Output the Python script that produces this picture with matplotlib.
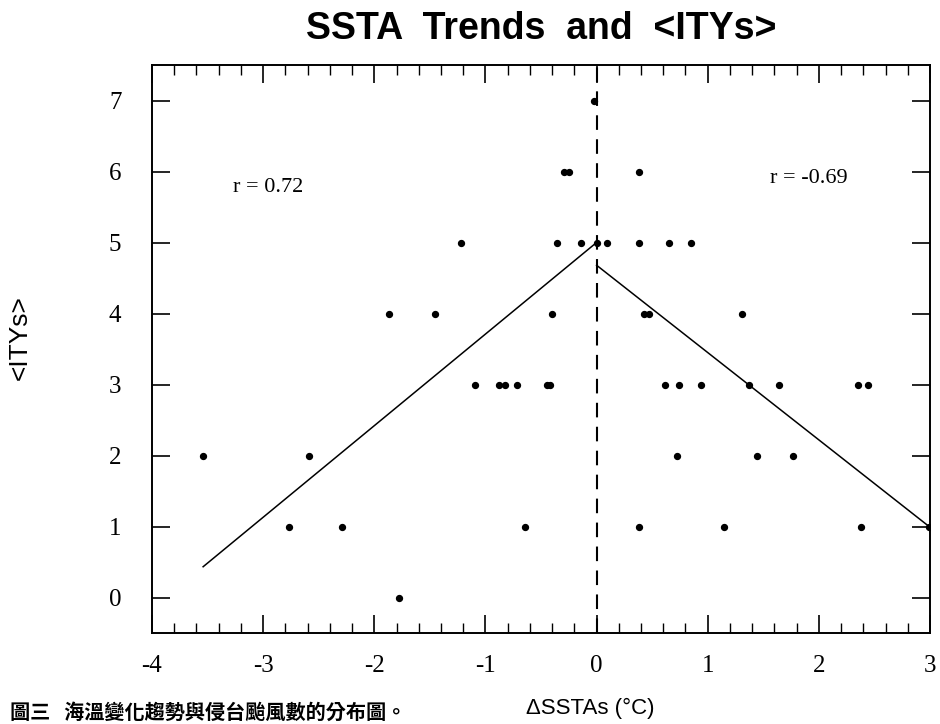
import matplotlib
matplotlib.use("Agg")
import matplotlib.pyplot as plt
import numpy as np
from matplotlib.ticker import MultipleLocator

plt.rcParams["axes.unicode_minus"] = False

# points
ssta = [-0.02,
        -0.29, -0.25, 0.38,
        -1.22, -0.36, -0.14, 0.0, 0.09, 0.385, 0.655, 0.85,
        -1.87, -1.45, -0.40, 0.43, 0.47, 1.31,
        -1.09, -0.88, -0.82, -0.72, -0.45, -0.42, 0.62, 0.74, 0.94, 1.37, 1.64, 2.35, 2.44,
        -3.54, -2.59, 0.72, 1.44, 1.77,
        -2.77, -2.29, -0.64, 0.38, 1.15, 2.38, 2.99,
        -1.78]
itys = [7,
        6, 6, 6,
        5, 5, 5, 5, 5, 5, 5, 5,
        4, 4, 4, 4, 4, 4,
        3, 3, 3, 3, 3, 3, 3, 3, 3, 3, 3, 3, 3,
        2, 2, 2, 2, 2,
        1, 1, 1, 1, 1, 1, 1,
        0]

# fitted lines (slope, intercept) for each side of zero
fit_left = [1.29, 5.0]
fit_right = [-1.23, 4.68]
r_left = "r = 0.72"
r_right = "r = -0.69"

serif = "Liberation Serif"
sans = "Liberation Sans"

fig = plt.figure(figsize=(9.4, 7.24), dpi=100)
ax = fig.add_axes([152/940, 91/724, 778/940, 568/724])

ax.scatter(ssta, itys, s=18, color="black", zorder=3)

x = np.array(ssta)
xl = np.array([x.min(), 0.0])
xr = np.array([0.0, x.max()])
ax.plot(xl, np.polyval(fit_left, xl), color="black", lw=1.1)
ax.plot(xr, np.polyval(fit_right, xr), color="black", lw=1.1)
ax.axvline(0, color="black", lw=1.5, linestyle=(0, (7, 4.5)))

ax.text(-3.27, 5.78, r_left, family=serif, fontsize=16, va="center")
ax.text(1.56, 5.9, r_right, family=serif, fontsize=16, va="center")

ax.set_xlim(-4, 3)
ax.set_ylim(-0.5, 7.5)
ax.xaxis.set_major_locator(MultipleLocator(1))
ax.xaxis.set_minor_locator(MultipleLocator(0.2))
ax.yaxis.set_major_locator(MultipleLocator(1))
ax.tick_params(axis="x", which="major", direction="in", top=True, length=13, width=1.2, pad=16)
ax.tick_params(axis="x", which="minor", direction="in", top=True, length=7, width=1.0)
ax.tick_params(axis="y", which="major", direction="in", right=True, length=13, width=1.2, pad=22)
for lab in ax.get_xticklabels() + ax.get_yticklabels():
    lab.set_family(serif)
    lab.set_fontsize(18)
for sp in ax.spines.values():
    sp.set_linewidth(1.4)

ax.set_xlabel("ΔSSTAs (°C)", family=sans, fontsize=16)
ax.xaxis.set_label_coords(0.563, -0.115)
ax.set_ylabel("<ITYs>", family=sans, fontsize=19)
ax.yaxis.set_label_coords(-0.155, 0.52)

fig.text(541/940, 1 - 29/724, "SSTA  Trends  and  <ITYs>", family=sans,
         fontweight="bold", fontsize=27, ha="center", va="center")
fig.text(10/940, 1 - 712/724, "圖三   海溫變化趨勢與侵台颱風數的分布圖。",
         family=["Noto Sans CJK TC", "DejaVu Sans"], fontweight="bold",
         fontsize=14.5, ha="left", va="center")

plt.savefig("out.png", dpi=100)
